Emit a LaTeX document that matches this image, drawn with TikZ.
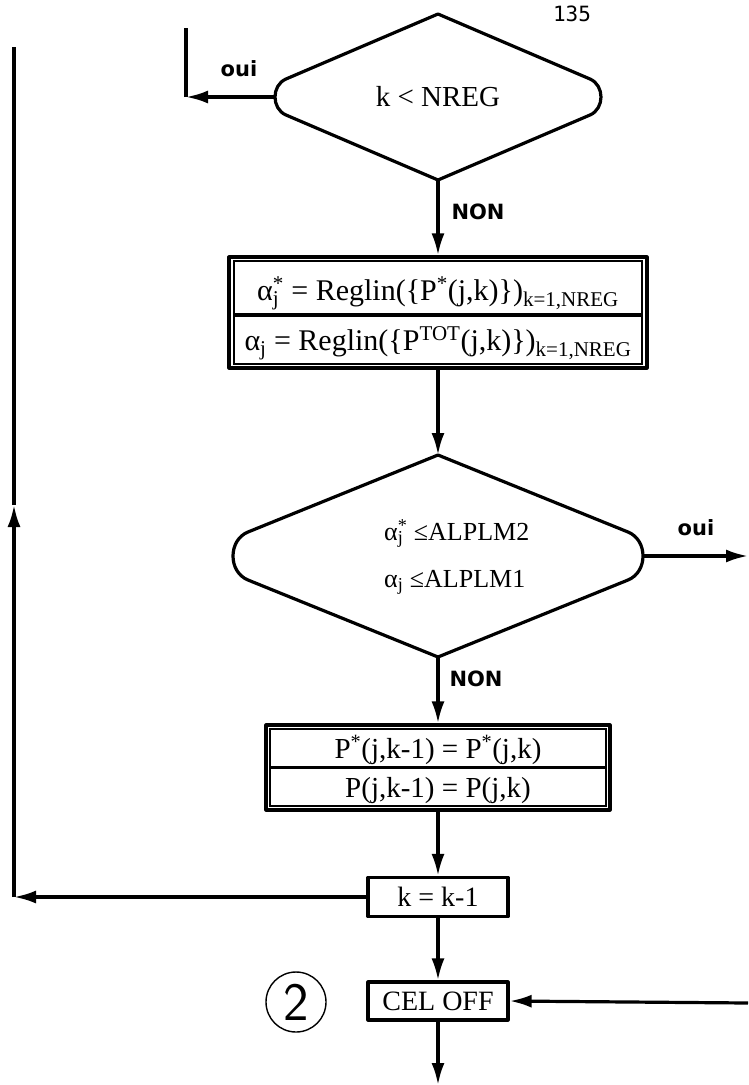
\documentclass[tikz,border=0pt]{standalone}
\usepackage{fontspec}
\setmainfont{Liberation Serif}
\newfontfamily\lblfont{DejaVu Sans}
\newfontfamily\pgfont{DejaVu Sans Mono}
\usetikzlibrary{arrows.meta,calc}
\newcommand\fs[1]{\fontsize{#1}{#1}\selectfont}
\newcommand\subsup[2]{\leavevmode\setbox0\hbox{\textsuperscript{#1}}\setbox2\hbox{\textsubscript{#2}}%
  \ifdim\wd0>\wd2 \rlap{\box2}\box0 \else \rlap{\box0}\box2\fi}
\newcommand\alsj{α\subsup{*}{j}}
\newcommand\alj{α\textsubscript{j}}
% name, cx, cy, h, w, j, e
\newcommand\capdiamond[7]{%
  \coordinate (#1-t) at ({#2},{#3-#4});
  \coordinate (#1-b) at ({#2},{#3+#4});
  \coordinate (#1-l) at ({#2-#5-#7},{#3});
  \coordinate (#1-r) at ({#2+#5+#7},{#3});
  \draw[ln] (#1-t) -- ({#2-#5},{#3-#6})
    .. controls ({#2-#5-1.333*#7},{#3-#6+1.333*#7*(#4-#6)/#5}) and ({#2-#5-1.333*#7},{#3+#6-1.333*#7*(#4-#6)/#5}) .. ({#2-#5},{#3+#6})
    -- (#1-b) -- ({#2+#5},{#3+#6})
    .. controls ({#2+#5+1.333*#7},{#3+#6-1.333*#7*(#4-#6)/#5}) and ({#2+#5+1.333*#7},{#3-#6+1.333*#7*(#4-#6)/#5}) .. ({#2+#5},{#3-#6})
    -- cycle;
}
\begin{document}
\begin{tikzpicture}[x=1pt,y=-1pt,
  ln/.style={line width=3.2pt, line join=round},
  arr/.style={ln,-{Latex[length=22pt,width=13pt]}},
  lbl/.style={font=\lblfont\bfseries\fs{21}, inner sep=0pt},
  txt/.style={inner sep=0pt, align=center},
  boxd/.style={draw, ln, inner sep=0pt},
  frame/.style={line width=2pt},
]
\useasboundingbox (0,0) rectangle (748,1085);

% page number
\node[font=\pgfont\fs{21}, inner sep=0pt] (pg) at (572,14) {135};

% diamond 1
\capdiamond{d1}{438}{97}{83}{152}{18}{11}
\node[txt, font=\fs{29}] (d1t) at (438,97) {k < NREG};

% box 1
\node[boxd, minimum width=418pt, minimum height=111pt] (b1) at (438,312.5) {};
\draw[frame] ($(b1.north west)+(7,6)$) rectangle ($(b1.south east)+(-7,-6)$);
\coordinate (b1dl) at ($(b1.west)+(7,2.5)$);
\coordinate (b1dr) at ($(b1.east)+(-7,2.5)$);
\draw[ln] (b1dl) -- (b1dr);
\node[txt, font=\fs{30}, anchor=base] (b1a) at (438,300) {\alsj{} = Reglin(\{P\textsuperscript{*}(j,k)\})\textsubscript{k=1,NREG}};
\node[txt, font=\fs{30}, anchor=base] (b1b) at (438,350) {\alj{} = Reglin(\{P\textsuperscript{TOT}(j,k)\})\textsubscript{k=1,NREG}};

% diamond 2
\capdiamond{d2}{438}{556}{101}{190}{24}{15}
\node[txt, align=left, anchor=west, font=\fontsize{26}{47}\selectfont] (d2t) at (384,557) {\alsj{} ≤ALPLM2\\\alj{} ≤ALPLM1};

% box 2
\node[boxd, minimum width=344pt, minimum height=85pt] (b2) at (438,767.5) {};
\draw[frame] ($(b2.north west)+(6,6)$) rectangle ($(b2.south east)+(-6,-6)$);
\coordinate (b2dl) at ($(b2.west)+(6,0)$);
\coordinate (b2dr) at ($(b2.east)+(-6,0)$);
\draw[ln] (b2dl) -- (b2dr);
\node[txt, font=\fs{29}, anchor=base] (b2a) at (438,758) {P\textsuperscript{*}(j,k-1) = P\textsuperscript{*}(j,k)};
\node[txt, font=\fs{29}, anchor=base] (b2b) at (438,797) {P(j,k-1) = P(j,k)};

% k = k-1
\node[boxd, minimum width=140pt, minimum height=39pt, font=\fs{28}] (kb) at (438,897) {k = k-1};
% CEL OFF
\node[boxd, minimum width=140pt, minimum height=38pt, font=\fs{28}] (cb) at (438,1001) {CEL OFF};
\node[draw, circle, line width=1.4pt, minimum size=60pt, inner sep=0pt, font=\sffamily\fs{54}] (c2) at (296,1002) {2};

% free ends
\coordinate (c1) at (186,97);
\coordinate (c1top) at (186,28);
\coordinate (o2) at (748,556);
\coordinate (cl) at (14,897);
\coordinate (cm) at (14,505);
\coordinate (clt) at (14,47);
\coordinate (ce) at (748,1003);
\coordinate (cbo) at (438,1085);

% connectors
\draw[arr] (d1-l) -- (c1);
\draw[ln] (c1) -- (c1top);
\draw[arr] (d1-b) -- (b1.north);
\draw[arr] (b1.south) -- (d2-t);
\draw[arr] (d2-r) -- (o2);
\draw[arr] (d2-b) -- (b2.north);
\draw[arr] (b2.south) -- (kb.north);
\draw[arr] (kb.west) -- (cl);
\draw[arr] (cl) -- (cm);
\draw[ln] (cm) -- (clt);
\draw[arr] (kb.south) -- (cb.north);
\draw[arr] (ce) -- (cb.east);
\draw[arr] (cb.south) -- (cbo);

% labels
\node[lbl] (oui1) at (239,69) {oui};
\node[lbl] (non1) at (478,212) {NON};
\node[lbl] (oui2) at (696,528) {oui};
\node[lbl] (non2) at (476,679) {NON};
\end{tikzpicture}
\end{document}
